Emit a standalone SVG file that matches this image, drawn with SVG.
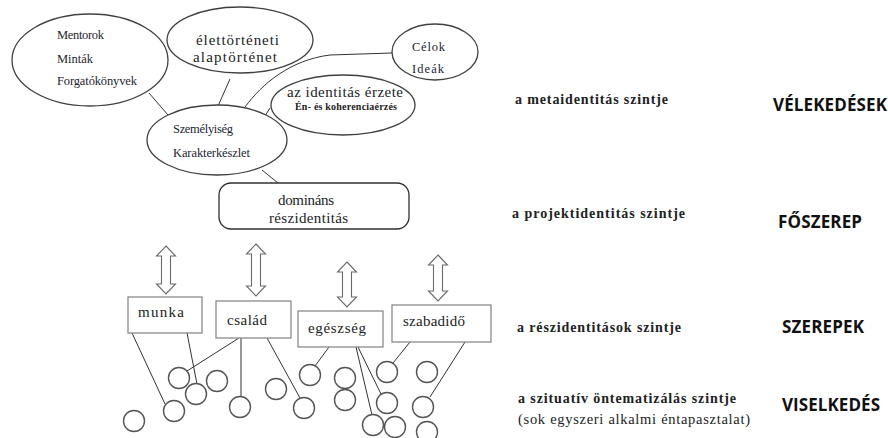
<svg xmlns="http://www.w3.org/2000/svg" width="888" height="438" viewBox="0 0 888 438">
<style>
.ell{fill:#fff;stroke:#404040;stroke-width:1.3}
.box{fill:#fff;stroke:#8a8a8a;stroke-width:1.3}
.rbox{fill:#fff;stroke:#303030;stroke-width:1.3}
.circ{fill:#fff;stroke:#555;stroke-width:1.4}
.arr{fill:#fff;stroke:#6a6a6a;stroke-width:1.1}
.ln{fill:none;stroke:#333;stroke-width:1}
text{font-family:"Liberation Serif","DejaVu Serif","Times New Roman",serif}
.sm{font-size:12.5px;fill:#1e1e30}
.md{font-size:15px;fill:#222}
.tiny{font-size:10px;font-weight:bold;fill:#222}
.lvl{font-size:14px;font-weight:bold;fill:#222}
.lvln{font-size:14.5px;fill:#222}
.cap{font-family:"Open Sans","Liberation Sans",sans-serif;font-size:17px;font-weight:bold;fill:#111}
</style>

<g id="connectors">
<line class="ln" x1="149" y1="93" x2="168" y2="115"/>
<line class="ln" x1="230" y1="79" x2="218" y2="106"/>
<path class="ln" d="M245,107 C262,84 290,60 330,55 L392,53"/>
<line class="ln" x1="270" y1="108" x2="265" y2="116"/>
<line class="ln" x1="262" y1="170" x2="278" y2="183"/>
<line class="ln" x1="132" y1="333" x2="165" y2="404"/>
<line class="ln" x1="187" y1="333" x2="197" y2="384"/>
<line class="ln" x1="239" y1="338" x2="187" y2="371"/>
<line class="ln" x1="241" y1="338" x2="241" y2="397"/>
<line class="ln" x1="267" y1="338" x2="300" y2="398"/>
<line class="ln" x1="329" y1="347" x2="315" y2="366"/>
<line class="ln" x1="356" y1="347" x2="372" y2="415"/>
<line class="ln" x1="358" y1="347" x2="381" y2="394"/>
<line class="ln" x1="410" y1="342" x2="393" y2="363"/>
<line class="ln" x1="465" y1="342" x2="430" y2="397"/>
</g>

<g id="mentorok">
<ellipse class="ell" cx="90" cy="60" rx="78" ry="46"/>
<text class="sm" x="57" y="39" textLength="47">Mentorok</text>
<text class="sm" x="57" y="63" textLength="36">Minták</text>
<text class="sm" x="57" y="85" textLength="80">Forgatókönyvek</text>
</g>

<g id="elettortenet">
<ellipse class="ell" cx="240" cy="40" rx="73" ry="33"/>
<text class="md" x="196" y="45" textLength="83">élettörténeti</text>
<text class="md" x="193" y="62" textLength="84">alaptörténet</text>
</g>

<g id="celok">
<ellipse class="ell" cx="435" cy="52" rx="43" ry="28"/>
<text class="sm" x="412" y="51" textLength="33">Célok</text>
<text class="sm" x="412" y="73" textLength="32">Ideák</text>
</g>

<g id="identitas">
<ellipse class="ell" cx="343" cy="105" rx="72" ry="30"/>
<text class="md" x="287" y="97" textLength="116">az identitás érzete</text>
<text class="tiny" x="295" y="110" textLength="102">Én- és koherenciaérzés</text>
</g>

<g id="szemelyiseg">
<ellipse class="ell" cx="217" cy="140" rx="70" ry="35"/>
<text class="sm" x="173" y="133" textLength="60">Személyiség</text>
<text class="sm" x="173" y="157" textLength="77">Karakterkészlet</text>
</g>

<g id="dominans">
<rect class="rbox" x="219" y="183" width="190" height="46" rx="12" ry="12"/>
<text class="md" x="278" y="205" textLength="56">domináns</text>
<text class="md" x="269" y="223" textLength="79">részidentitás</text>
</g>

<g id="arrows">
<polygon class="arr" points="166,246 175.5,256 170.5,256 170.5,284 175.5,284 166,294 156.5,284 161.5,284 161.5,256 156.5,256"/>
<polygon class="arr" points="256,244 265.5,254 260.5,254 260.5,286 265.5,286 256,296 246.5,286 251.5,286 251.5,254 246.5,254"/>
<polygon class="arr" points="347,262 356.5,272 351.5,272 351.5,297 356.5,297 347,307 337.5,297 342.5,297 342.5,272 337.5,272"/>
<polygon class="arr" points="438,255 447.5,265 442.5,265 442.5,291 447.5,291 438,301 428.5,291 433.5,291 433.5,265 428.5,265"/>
</g>

<g id="munka">
<rect class="box" x="128" y="297" width="74" height="36"/>
<text class="md" x="138" y="317" textLength="46">munka</text>
</g>
<g id="csalad">
<rect class="box" x="216" y="301" width="75" height="37"/>
<text class="md" x="227" y="325" textLength="40">család</text>
</g>
<g id="egeszseg">
<rect class="box" x="298" y="311" width="85" height="36"/>
<text class="md" x="308" y="333" textLength="58">egészség</text>
</g>
<g id="szabadido">
<rect class="box" x="392" y="305" width="99" height="37"/>
<text class="md" x="403" y="326" textLength="62">szabadidő</text>
</g>

<g id="circles">
<circle class="circ" cx="179" cy="378" r="10.5"/>
<circle class="circ" cx="196" cy="394" r="10.5"/>
<circle class="circ" cx="217" cy="381" r="10.5"/>
<circle class="circ" cx="174" cy="411" r="10.5"/>
<circle class="circ" cx="134" cy="421" r="10.5"/>
<circle class="circ" cx="240" cy="407" r="10.5"/>
<circle class="circ" cx="276" cy="389" r="10.5"/>
<circle class="circ" cx="304" cy="408" r="10.5"/>
<circle class="circ" cx="310" cy="375" r="10.5"/>
<circle class="circ" cx="345" cy="378" r="10.5"/>
<circle class="circ" cx="345" cy="400" r="10.5"/>
<circle class="circ" cx="387" cy="372" r="10.5"/>
<circle class="circ" cx="427" cy="372" r="10.5"/>
<circle class="circ" cx="387" cy="403" r="10.5"/>
<circle class="circ" cx="423" cy="407" r="10.5"/>
<circle class="circ" cx="373" cy="425" r="10.5"/>
<circle class="circ" cx="395" cy="427" r="10.5"/>
<circle class="circ" cx="427" cy="432" r="10.5"/>
</g>

<g id="levels">
<text class="lvl" x="515" y="104" textLength="153">a metaidentitás szintje</text>
<text class="cap" x="773" y="111" textLength="114">VÉLEKEDÉSEK</text>
<text class="lvl" x="512" y="218" textLength="173">a projektidentitás szintje</text>
<text class="cap" x="778" y="228" textLength="84">FŐSZEREP</text>
<text class="lvl" x="517" y="332" textLength="164">a részidentitások szintje</text>
<text class="cap" x="782" y="333" textLength="82">SZEREPEK</text>
<text class="lvl" x="518" y="403" textLength="218">a szituatív öntematizálás szintje</text>
<text class="lvln" x="518" y="424" textLength="232">(sok egyszeri alkalmi éntapasztalat)</text>
<text class="cap" x="782" y="411" textLength="98">VISELKEDÉS</text>
</g>
</svg>
